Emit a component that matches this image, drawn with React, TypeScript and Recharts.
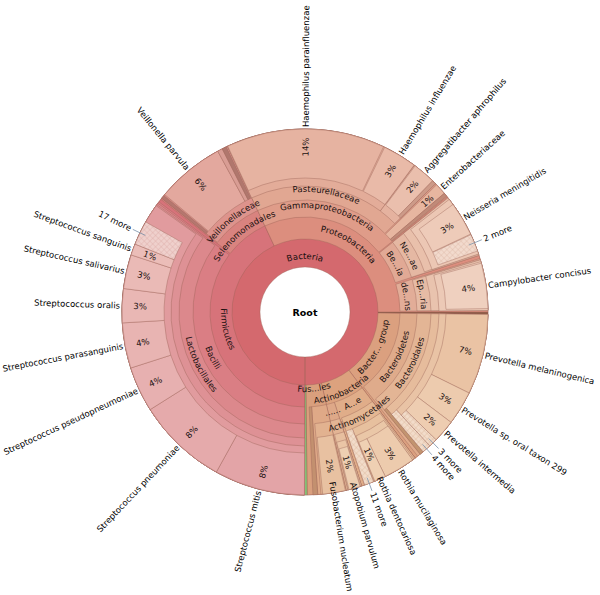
import React from 'react';
import { PieChart, Pie, Cell } from 'recharts';

// Krona-style breakdown, values are % of all reads, listed clockwise from 3 o'clock.
// '' = unnamed sliver or unassigned gap (parent shows through).

const d1Names = ['Bacteria'];
const d1Values = [100];

const d2Names = ['', 'Bacter... group', 'Actinobacteria', 'Fus...les', '', 'Firmicutes', 'Proteobacteria'];
const d2Values = [0.22, 14.5, 6.67, 3.42, 0.25, 43.0, 31.94];

const d3Names = ['', 'Bacteroidetes', '', 'A...e', '......', 'Fusobacteriaceae', '', '', 'Bacilli', '', 'Selenomonadales',
  'Gammaproteobacteria', '', 'Be...ia', '', 'de...ns', ''];
const d3Values = [0.22, 14.22, 0.28, 5.28, 1.39, 2.5, 0.42, 0.75, 35.22, 0.28, 7.5, 21.11, 0.14, 5.69, 0.28, 4.58, 0.14];

const d4Names = ['', 'Bacteroidales', '', 'Actinomycetales', '', 'Coriobacteriales', 'Fusobacterium', '', 'Lactobacillales', '',
  'Veillonellaceae', 'Pasteurellaceae', '', 'Enterobacteriaceae', '', '', 'Ne...ae', '', 'Ep...ria', ''];
const d4Values = [0.22, 13.94, 0.56, 5.0, 0.28, 1.39, 2.22, 1.44, 35.08, 0.56, 7.36, 19.58, 0.14, 1.0, 0.33, 0.19, 5.69, 0.42, 4.44, 0.16];

const d5Names = ['', 'Prevotellaceae', '', '', 'Micrococcaceae', '11 more', '', 'Coriobacteriaceae', '', 'Fusobacterium nucleatum', '',
  'Streptococcaceae', '', '', '', 'Veillonella parvula', '', '', '', 'Haemophilus', 'Aggregatibacter', '', 'Neisseriaceae', '',
  'Campylobacterales', ''];
const d5Values = [0.22, 13.61, 0.33, 0.69, 4.03, 0.83, 0.28, 1.25, 0.22, 2.0, 1.58, 34.94, 0.69, 0.31, 0.11, 6.0, 0.44, 0.39, 0.11,
  17.17, 2.41, 1.67, 5.56, 0.56, 4.44, 0.16];

const d6Names = ['', 'Prevotella', '4 more', '', 'Rothia', '', 'Atopobium', '', 'Streptococcus', '', 'Haemophilus parainfluenzae', '',
  'Haemophilus influenzae', '', 'Aggregatibacter aphrophilus', '', '', 'Neisseria', '', 'Campylobacter', ''];
const d6Values = [0.22, 12.83, 0.78, 1.17, 3.78, 1.31, 1.11, 3.86, 34.81, 8.19, 14.0, 0.11, 3.0, 0.11, 2.0, 0.36, 1.81, 5.42, 0.69, 4.31, 0.13];

const d7Names = ['', 'Prevotella melaninogenica', 'Prevotella sp. oral taxon 299', 'Prevotella intermedia', '3 more', '',
  'Rothia mucilaginosa', 'Rothia dentocariosa', '', 'Atopobium parvulum', '', 'Streptococcus mitis', 'Streptococcus pneumoniae',
  'Streptococcus pseudopneumoniae', 'Streptococcus parasanguinis', 'Streptococcus oralis', 'Streptococcus salivarius',
  'Streptococcus sanguinis', '17 more', '', 'Neisseria meningitidis', '', '2 more', '', 'Campylobacter concisus', ''];
const d7Values = [0.22, 7.08, 3.0, 2.0, 0.75, 1.94, 2.78, 1.0, 1.36, 1.0, 3.92, 8, 8, 4, 4, 3, 3, 1, 2.14, 31.81, 3.0, 0.06, 1.53,
  1.11, 4.0, 0.3];

// leaves get an outside label (and a % inside unless they are a "more" group)
const leafNames = [
  'Enterobacteriaceae', '11 more', 'Fusobacterium nucleatum', 'Veillonella parvula', '4 more', 'Haemophilus parainfluenzae',
  'Haemophilus influenzae', 'Aggregatibacter aphrophilus', ...d7Names.filter((n) => n !== ''),
];
// nodes too narrow for Krona to print a name
const quietNames = ['Fusobacteriaceae', 'Coriobacteriales', 'Fusobacterium', 'Prevotellaceae', 'Micrococcaceae', 'Coriobacteriaceae',
  'Streptococcaceae', 'Haemophilus', 'Aggregatibacter', 'Neisseriaceae', 'Campylobacterales', 'Prevotella', 'Rothia', 'Atopobium',
  'Streptococcus', 'Neisseria', 'Campylobacter'];

// colours (styles kept apart from the data)
const G = 'none';
const d1Colors = ['#d4696e'];
const d2Colors = ['#8f5c48', '#dba07f', '#dca27e', '#d99f7d', '#86c276', '#d7737a', '#dc8e7e'];
const d3Colors = [G, '#dfab8b', G, '#e0ad89', '#dea888', '#dfa987', '#c3906f', G, '#da7e84', G, '#d9837f', '#df9c89', G, '#e1a995', G,
  '#e2ad98', G];
const d4Colors = [G, '#e3b595', G, '#e4b793', G, '#e3b494', '#e2b290', G, '#dc888c', G, '#dd938c', '#e1a792', G, '#e7b6a0', '#c08a78',
  G, '#e5b8a3', G, '#e6bba5', G];
const d5Colors = [G, '#e6bc9c', '#c2946f', G, '#e7c09e', 'url(#hatchTan)', G, '#e7bf9f', G, '#e8c1a1', G, '#de9195', G, '#b5776f', G,
  '#e3a89e', '#d99d94', '#b0776d', G, '#e3ac99', '#e5b29f', G, '#e9c0ab', G, '#e9c3ae', G];
const d6Colors = [G, '#e9c3a5', 'url(#hatchTan)', G, '#eac7a7', G, '#eac5a6', G, '#e19b9e', G, '#e6b3a1', G, '#e9baa8', G, '#eabfad',
  '#cd9a88', G, '#ecc7b4', G, '#ecc9b6', G];
const d7Colors = [G, '#eac3a4', '#edcbae', '#eecdb1', 'url(#hatchTan)', G, '#edcbad', '#efd0b3', G, '#eecfb2', G, '#e3a4a7', '#e5aaab',
  '#e7b0b0', '#e8b4b2', '#e9b7b4', '#eabab6', '#ebbdb8', 'url(#hatchPink)', G, '#eecbb9', G, 'url(#hatchSalmon)', G, '#efd0bf', G];

const CX = 305;
const CY = 312;
const EDGE = 183;
const bands = [45, 73, 95, 112, 126, 134, 141];
const labelR = [56, 81, 103, 119];
const labelNudge: Record<string, number> = { Actinobacteria: 8, 'Fus...les': -4, Proteobacteria: 4, Gammaproteobacteria: 4, Pasteurellaceae: 4 };
// narrow leaves whose names start inside the wedge
const leafStart: Record<string, number> = { 'Fusobacterium nucleatum': 172, 'Atopobium parvulum': 177, 'Rothia dentocariosa': 181 };
const RAD = Math.PI / 180;
const FONT = 'DejaVu Sans, Verdana, sans-serif';

const rings = [
  { names: d1Names, values: d1Values, colors: d1Colors },
  { names: d2Names, values: d2Values, colors: d2Colors },
  { names: d3Names, values: d3Values, colors: d3Colors },
  { names: d4Names, values: d4Values, colors: d4Colors },
  { names: d5Names, values: d5Values, colors: d5Colors },
  { names: d6Names, values: d6Values, colors: d6Colors },
  { names: d7Names, values: d7Values, colors: d7Colors },
];

const pt = (cx: number, cy: number, r: number, t: number) => [cx + r * Math.cos(t * RAD), cy + r * Math.sin(t * RAD)];

const arcLabel = (id: string, text: string, cx: number, cy: number, r: number, t: number) => {
  const lower = t > 0 && t < 180;
  const rr = lower ? r + 3 : r - 3;
  const a0 = lower ? t + 85 : t - 85;
  const a1 = lower ? t - 85 : t + 85;
  const [x0, y0] = pt(cx, cy, rr, a0);
  const [x1, y1] = pt(cx, cy, rr, a1);
  return (
    <g key={id}>
      <path id={id} d={`M${x0},${y0} A${rr},${rr} 0 0 ${lower ? 0 : 1} ${x1},${y1}`} fill="none" />
      <text fontSize={8.5} fill="#1a1010" fontFamily={FONT}>
        <textPath href={`#${id}`} startOffset="50%" textAnchor="middle">{text}</textPath>
      </text>
    </g>
  );
};

const makeLabel = (depth: number) => (props: any) => {
  const { cx, cy, midAngle, index } = props;
  const name = rings[depth].names[index];
  if (!name || quietNames.includes(name)) return null;
  const t = (((-midAngle) % 360) + 360) % 360;
  if (!leafNames.includes(name)) {
    return arcLabel(`lbl-${depth}-${index}`, name, cx, cy, labelR[depth] + (labelNudge[name] || 0), t);
  }
  const more = name.endsWith('more');
  const left = t > 90 && t < 270;
  const rot = left ? t - 180 : t;
  const r0 = more ? 193 : leafStart[name] || 185;
  const [x, y] = pt(cx, cy, r0, t);
  const [lx0, ly0] = pt(cx, cy, EDGE - 6, t);
  const [lx1, ly1] = pt(cx, cy, 191, t);
  const [px, py] = pt(cx, cy, leafStart[name] ? 156 : 165, t);
  const pct = Math.round(rings[depth].values[index]);
  return (
    <g key={`leaf-${depth}-${index}`}>
      {more && <line x1={lx0} y1={ly0} x2={lx1} y2={ly1} stroke="#7890a8" strokeWidth={0.8} />}
      <text x={x} y={y} transform={`rotate(${rot},${x},${y})`} textAnchor={left ? 'end' : 'start'}
        dominantBaseline="central" fontSize={8.5} fill="#000" fontFamily={FONT}>{name}</text>
      {!more && (
        <text x={px} y={py} transform={`rotate(${rot},${px},${py})`} textAnchor="middle" dominantBaseline="central"
          fontSize={8.5} fill="#1a1010" fontFamily={FONT}>{pct}%</text>
      )}
    </g>
  );
};

const rootLabel = (props: any) => (
  <text x={props.cx} y={props.cy} textAnchor="middle" dominantBaseline="central" fontSize={9.5} fontWeight="bold"
    fill="#000" fontFamily={FONT}>Root</text>
);

const hatch = (id: string, base: string, line: string) => (
  <pattern id={id} width="4" height="4" patternUnits="userSpaceOnUse" patternTransform="rotate(45)">
    <rect width="4" height="4" fill={base} />
    <path d="M0,0 L0,4 M0,0 L4,0" stroke={line} strokeWidth="0.7" />
  </pattern>
);

export default function App() {
  return (
    <div style={{ position: 'absolute', left: 0, top: 0, width: 600, height: 595, background: '#fff' }}>
      <PieChart width={600} height={595} margin={{ top: 0, right: 0, bottom: 0, left: 0 }}>
        <defs>
          {hatch('hatchTan', '#f2dcca', '#d8b498')}
          {hatch('hatchPink', '#efd0cc', '#d8a8a4')}
          {hatch('hatchSalmon', '#f2dacd', '#d9b3a2')}
        </defs>
        <Pie data={[{ name: 'Root', value: 100 }]} dataKey="value" nameKey="name" cx={CX} cy={CY}
          innerRadius={0} outerRadius={bands[0]} isAnimationActive={false} label={rootLabel} labelLine={false}>
          <Cell fill="#ffffff" stroke="none" />
        </Pie>
        {rings.map((ring, depth) => (
          <Pie key={depth} data={ring.names.map((n, i) => ({ name: n, value: ring.values[i] }))} dataKey="value" nameKey="name"
            cx={CX} cy={CY} innerRadius={bands[depth]} outerRadius={EDGE}
            startAngle={depth === 0 ? -90 : 0} endAngle={depth === 0 ? -450 : -360}
            paddingAngle={0} isAnimationActive={false} label={makeLabel(depth)} labelLine={false}>
            {ring.colors.map((c, i) => (
              <Cell key={i} fill={c} stroke={c === G ? 'none' : '#9c6358'} strokeOpacity={0.5} strokeWidth={0.8} />
            ))}
          </Pie>
        ))}
      </PieChart>
    </div>
  );
}
